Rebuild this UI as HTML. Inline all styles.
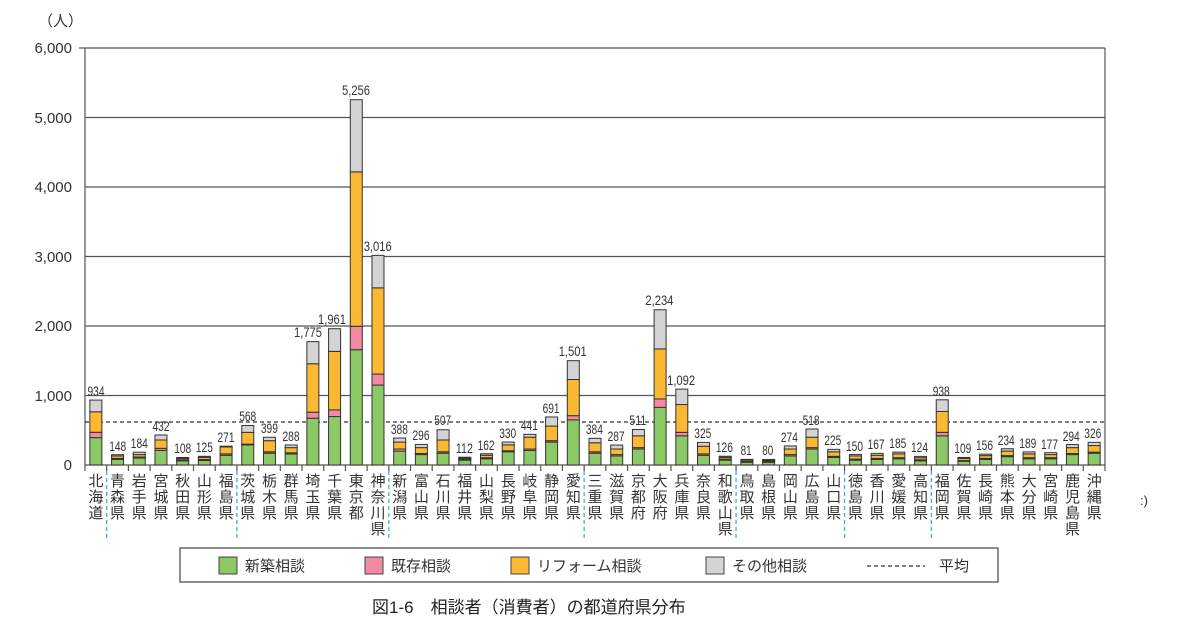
<!DOCTYPE html>
<html><head><meta charset="utf-8"><style>
body{margin:0;background:#fff;width:1200px;height:630px;overflow:hidden;position:relative;font-family:"Liberation Sans","Noto Sans CJK JP",sans-serif;}
#xl{position:absolute;left:85px;top:474px;width:1020px;display:flex;}
#xl div{flex:1;text-align:center;font-size:15px;line-height:16px;color:#333;}
</style></head><body>
<svg id="c" width="1200" height="630" style="position:absolute;left:0;top:0">
<g stroke="#555" stroke-width="1.2">
<line x1="85" y1="48" x2="1105" y2="48"/><line x1="85" y1="117.5" x2="1105" y2="117.5"/>
<line x1="85" y1="187" x2="1105" y2="187"/><line x1="85" y1="256.5" x2="1105" y2="256.5"/>
<line x1="85" y1="326" x2="1105" y2="326"/><line x1="85" y1="395.5" x2="1105" y2="395.5"/>
<line x1="85" y1="465" x2="1105" y2="465"/>
<line x1="79" y1="48" x2="85" y2="48"/>
<line x1="85" y1="48" x2="85" y2="471"/><line x1="1105" y1="48" x2="1105" y2="471"/>
</g>
<line x1="85" y1="422" x2="1105" y2="422" stroke="#333" stroke-width="1.3" stroke-dasharray="4,3"/>
<g id="bars"></g>
<g font-size="15" fill="#333" text-anchor="end">
<text x="72" y="53">6,000</text><text x="72" y="123">5,000</text><text x="72" y="192">4,000</text>
<text x="72" y="262">3,000</text><text x="72" y="331">2,000</text><text x="72" y="401">1,000</text><text x="72" y="470">0</text>
</g>
<text x="38" y="26" font-size="15" fill="#333">（人）</text>
<text x="1140" y="505" font-size="13" fill="#333">:)</text>
<g id="vl" font-size="14" fill="#333" text-anchor="middle" lengthAdjust="spacingAndGlyphs">
<text x="96" y="396">934</text><text x="117.7" y="451">148</text><text x="139.3" y="448">184</text><text x="161" y="431">432</text><text x="182.7" y="453">108</text><text x="204.4" y="452">125</text><text x="226" y="442">271</text><text x="247.7" y="421">568</text><text x="269.4" y="433">399</text><text x="291" y="441">288</text><text x="308" y="337">1,775</text><text x="332" y="324">1,961</text><text x="356" y="95">5,256</text><text x="377.7" y="251">3,016</text><text x="399.4" y="434">388</text><text x="421" y="440">296</text><text x="442.7" y="425">507</text><text x="464.4" y="453">112</text><text x="486.1" y="450">162</text><text x="507.7" y="438">330</text><text x="529.4" y="430">441</text><text x="551.1" y="413">691</text><text x="572.7" y="356">1,501</text><text x="594.4" y="434">384</text><text x="616.1" y="441">287</text><text x="637.8" y="425">511</text><text x="659.4" y="305">2,234</text><text x="681.1" y="385">1,092</text><text x="702.8" y="438">325</text><text x="724.4" y="452">126</text><text x="746.1" y="455">81</text><text x="767.8" y="455">80</text><text x="789.4" y="442">274</text><text x="811.1" y="425">518</text><text x="832.8" y="445">225</text><text x="854.5" y="451">150</text><text x="876.1" y="449">167</text><text x="897.8" y="448">185</text><text x="919.5" y="452">124</text><text x="941.2" y="396">938</text><text x="962.8" y="453">109</text><text x="984.5" y="450">156</text><text x="1006.2" y="445">234</text><text x="1027.8" y="448">189</text><text x="1049.5" y="449">177</text><text x="1071.2" y="441">294</text><text x="1092.8" y="438">326</text>
</g>
<rect x="180" y="548" width="818" height="34" fill="#fff" stroke="#444" stroke-width="1.2"/>
<rect x="219" y="557" width="18" height="17" fill="#8cc866" stroke="#444"/>
<rect x="365" y="557" width="18" height="17" fill="#f28aa3" stroke="#444"/>
<rect x="511" y="557" width="18" height="17" fill="#fbb833" stroke="#444"/>
<rect x="706" y="557" width="18" height="17" fill="#d4d4d6" stroke="#444"/>
<line x1="867" y1="566" x2="925" y2="566" stroke="#333" stroke-width="1.3" stroke-dasharray="4,3"/>
<g font-size="15" fill="#333">
<text x="245" y="571">新築相談</text><text x="391" y="571">既存相談</text><text x="537" y="571">リフォーム相談</text><text x="732" y="571">その他相談</text><text x="939" y="571">平均</text>
</g>
<text x="372" y="613" font-size="17" fill="#222">図1-6　相談者（消費者）の都道府県分布</text>
</svg>
<div id="xl"><div>北<br>海<br>道</div><div>青<br>森<br>県</div><div>岩<br>手<br>県</div><div>宮<br>城<br>県</div><div>秋<br>田<br>県</div><div>山<br>形<br>県</div><div>福<br>島<br>県</div><div>茨<br>城<br>県</div><div>栃<br>木<br>県</div><div>群<br>馬<br>県</div><div>埼<br>玉<br>県</div><div>千<br>葉<br>県</div><div>東<br>京<br>都</div><div>神<br>奈<br>川<br>県</div><div>新<br>潟<br>県</div><div>富<br>山<br>県</div><div>石<br>川<br>県</div><div>福<br>井<br>県</div><div>山<br>梨<br>県</div><div>長<br>野<br>県</div><div>岐<br>阜<br>県</div><div>静<br>岡<br>県</div><div>愛<br>知<br>県</div><div>三<br>重<br>県</div><div>滋<br>賀<br>県</div><div>京<br>都<br>府</div><div>大<br>阪<br>府</div><div>兵<br>庫<br>県</div><div>奈<br>良<br>県</div><div>和<br>歌<br>山<br>県</div><div>鳥<br>取<br>県</div><div>島<br>根<br>県</div><div>岡<br>山<br>県</div><div>広<br>島<br>県</div><div>山<br>口<br>県</div><div>徳<br>島<br>県</div><div>香<br>川<br>県</div><div>愛<br>媛<br>県</div><div>高<br>知<br>県</div><div>福<br>岡<br>県</div><div>佐<br>賀<br>県</div><div>長<br>崎<br>県</div><div>熊<br>本<br>県</div><div>大<br>分<br>県</div><div>宮<br>崎<br>県</div><div>鹿<br>児<br>島<br>県</div><div>沖<br>縄<br>県</div></div>
<script>
var d=[[394,471,765,934],[80,95,130,148],[100,115,150,184],[210,240,360,432],[60,75,95,108],[65,80,110,125],[140,160,260,271],[290,300,470,568],[170,190,350,399],[160,175,250,288],[673,760,1457,1775],[697,793,1635,1961],[1659,1996,4218,5256],[1150,1308,2549,3016],[200,230,330,388],[150,165,250,296],[170,190,360,507],[70,85,100,112],[90,105,140,162],[190,205,290,330],[210,230,400,441],[330,350,560,691],[650,710,1230,1501],[170,190,320,384],[130,150,230,287],[230,250,420,511],[830,950,1670,2234],[420,470,870,1092],[140,160,270,325],[70,85,110,126],[40,50,70,81],[40,50,65,80],[130,150,230,274],[230,250,400,518],[110,125,190,225],[70,85,130,150],[80,95,140,167],[90,105,160,185],[60,75,105,124],[420,470,770,938],[55,65,95,109],[80,95,135,156],[120,135,200,234],[90,105,160,189],[90,105,150,177],[150,165,250,294],[170,185,280,326]];
var cols=["#8cc866","#f28aa3","#fbb833","#d4d4d6"],s="",w=1020/47;
for(var i=0;i<d.length;i++){var cx=85+w*(i+0.5),prev=0;
for(var j=0;j<4;j++){var y1=465-d[i][j]*0.0695,y0=465-prev*0.0695;
s+='<rect x="'+(cx-6)+'" y="'+y1+'" width="12" height="'+(y0-y1)+'" fill="'+cols[j]+'" stroke="#333" stroke-width="1"/>';prev=d[i][j];}}
for(var k=1;k<47;k++){var x=85+w*k;s+='<line x1="'+x+'" y1="465" x2="'+x+'" y2="471" stroke="#555" stroke-width="1.2"/>';}
[1,7,14,23,30,35,39].forEach(function(k){var x=85+w*k;s+='<line x1="'+x+'" y1="471" x2="'+x+'" y2="538" stroke="#3ab0e0" stroke-width="1.3" stroke-dasharray="4,3"/>';});
document.getElementById("bars").innerHTML=s;
var ts=document.querySelectorAll("#vl text");
for(var q=0;q<ts.length;q++){var n=ts[q].textContent.length;ts[q].setAttribute("textLength",n==2?11:(n==3?17:28));ts[q].setAttribute("lengthAdjust","spacingAndGlyphs");}
</script>
</body></html>
